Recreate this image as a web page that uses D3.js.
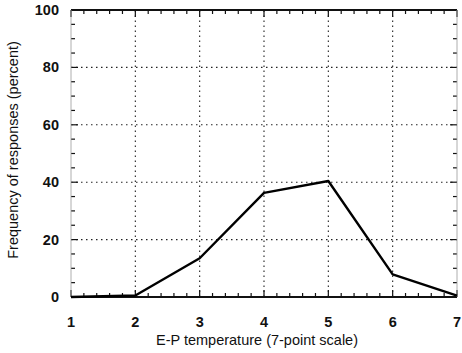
<!DOCTYPE html>
<html>
<head>
<meta charset="utf-8">
<script src="https://cdn.jsdelivr.net/npm/d3@7/dist/d3.min.js"></script>
<style>
  body { margin: 0; background: #fff; }
  svg text { font-family: "Liberation Sans", Arial, sans-serif; fill: #111; }
</style>
</head>
<body>
<div id="chart"></div>
<script>
// Data
const scalePoints = [1, 2, 3, 4, 5, 6, 7];
const frequency = [0, 0.5, 13.5, 36.3, 40.4, 7.9, 0.5];
const yTicks = [0, 20, 40, 60, 80, 100];

const width = 462, height = 353;
const margin = { top: 10, right: 5, bottom: 56, left: 71 };

const svg = d3.select('#chart').append('svg')
  .attr('width', width)
  .attr('height', height);

const x = d3.scaleLinear().domain([1, 7]).range([margin.left, width - margin.right]);
const y = d3.scaleLinear().domain([0, 100]).range([height - margin.bottom, margin.top]);

const x0 = x.range()[0], x1 = x.range()[1];
const y0 = y.range()[0], y1 = y.range()[1];

// Dotted grid at major ticks
const grid = svg.append('g')
  .attr('stroke', '#222')
  .attr('stroke-width', 1.1)
  .attr('stroke-dasharray', '1.5,3.5');

grid.selectAll('.vg')
  .data(scalePoints.slice(1, -1))
  .join('line')
  .attr('x1', d => x(d)).attr('x2', d => x(d))
  .attr('y1', y0).attr('y2', y1);

grid.selectAll('.hg')
  .data(yTicks.slice(1, -1))
  .join('line')
  .attr('x1', x0).attr('x2', x1)
  .attr('y1', d => y(d)).attr('y2', d => y(d));

// Inward ticks on all four sides
const xMinor = d3.range(1, 7.001, 0.2);
const yMinor = d3.range(0, 100.001, 5);
const ticks = svg.append('g').attr('stroke', '#111').attr('stroke-width', 1.2);

ticks.selectAll('.xb')
  .data(xMinor)
  .join('line')
  .attr('x1', d => x(d)).attr('x2', d => x(d))
  .attr('y1', y0).attr('y2', d => y0 - (Math.abs(d - Math.round(d)) < 1e-6 ? 7 : 4));

ticks.selectAll('.xt')
  .data(xMinor)
  .join('line')
  .attr('x1', d => x(d)).attr('x2', d => x(d))
  .attr('y1', y1).attr('y2', d => y1 + (Math.abs(d - Math.round(d)) < 1e-6 ? 7 : 4));

ticks.selectAll('.yl')
  .data(yMinor)
  .join('line')
  .attr('y1', d => y(d)).attr('y2', d => y(d))
  .attr('x1', x0).attr('x2', d => x0 + (d % 20 === 0 ? 7 : 4));

ticks.selectAll('.yr')
  .data(yMinor)
  .join('line')
  .attr('y1', d => y(d)).attr('y2', d => y(d))
  .attr('x1', x1).attr('x2', d => x1 - (d % 20 === 0 ? 7 : 4));

// Frame
svg.append('line')
  .attr('x1', x0).attr('x2', x1).attr('y1', y1).attr('y2', y1)
  .attr('stroke', '#111').attr('stroke-width', 2);
svg.append('line')
  .attr('x1', x0).attr('x2', x1).attr('y1', y0).attr('y2', y0)
  .attr('stroke', '#111').attr('stroke-width', 2);
svg.append('line')
  .attr('x1', x0).attr('x2', x0).attr('y1', y0).attr('y2', y1)
  .attr('stroke', '#999').attr('stroke-width', 0.8);
svg.append('line')
  .attr('x1', x1).attr('x2', x1).attr('y1', y0).attr('y2', y1)
  .attr('stroke', '#999').attr('stroke-width', 0.8);

// Data line
const line = d3.line()
  .x((d, i) => x(scalePoints[i]))
  .y(d => y(d));

svg.append('path')
  .datum(frequency)
  .attr('d', line)
  .attr('fill', 'none')
  .attr('stroke', '#000')
  .attr('stroke-width', 2.4)
  .attr('stroke-linejoin', 'round');

// Tick labels
svg.append('g')
  .selectAll('text')
  .data(scalePoints)
  .join('text')
  .attr('x', d => x(d))
  .attr('y', y0 + 30)
  .attr('text-anchor', 'middle')
  .style('font-size', '14.5px')
  .style('font-weight', 'bold')
  .text(d => d);

svg.append('g')
  .selectAll('text')
  .data(yTicks)
  .join('text')
  .attr('x', x0 - 12)
  .attr('y', d => y(d) + 5)
  .attr('text-anchor', 'end')
  .style('font-size', '14.5px')
  .style('font-weight', 'bold')
  .text(d => d);

// Axis titles
svg.append('text')
  .attr('x', 257)
  .attr('y', y0 + 48)
  .attr('text-anchor', 'middle')
  .style('font-size', '14.5px')
  .text('E-P temperature (7-point scale)');

svg.append('text')
  .attr('transform', `translate(18,150) rotate(-90)`)
  .attr('text-anchor', 'middle')
  .style('font-size', '14.5px')
  .text('Frequency of responses (percent)');
</script>
</body>
</html>
